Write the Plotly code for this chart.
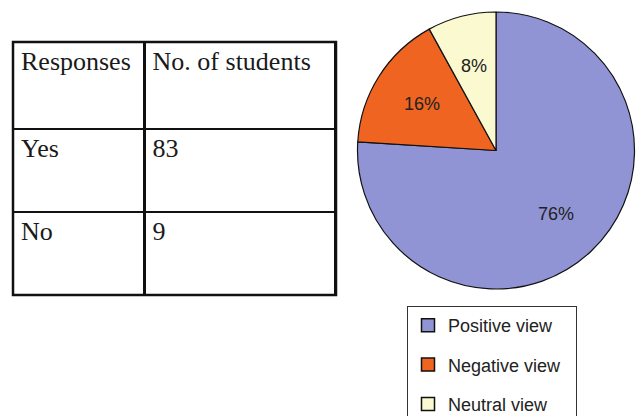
import math
import plotly.graph_objects as go

# ---- data ----
table_header = ["Responses", "No. of students"]
responses = ["Yes", "No"]
students = [83, 9]

view_labels = ["Positive view", "Negative view", "Neutral view"]
view_percent = [76, 16, 8]
view_colors = ["#9194D4", "#EE6420", "#FAF9D0"]

W, H = 636, 416

# table geometry (px)
T_LEFT, T_RIGHT, T_TOP = 13, 336, 42
HEADER_H, ROW_H = 87, 83
T_BOTTOM = T_TOP + HEADER_H + ROW_H * len(responses)

# pie geometry (px)
CX, CY, R = 496, 150.5, 138.5

fig = go.Figure()

serif = dict(family="Liberation Serif, Times New Roman, serif", size=26, color="#1a1a1a")
fig.add_trace(go.Table(
    domain=dict(x=[T_LEFT / W, T_RIGHT / W], y=[(H - T_BOTTOM - 4) / H, (H - T_TOP) / H]),
    columnwidth=[132, 191],
    header=dict(values=table_header, align="left", height=HEADER_H,
                line=dict(color="#111111", width=2.5), fill=dict(color="white"), font=serif),
    cells=dict(values=[responses, students], align="left", height=ROW_H,
               line=dict(color="#111111", width=2.5), fill=dict(color="white"), font=serif),
))

# outer frame of the table
fig.add_shape(type="rect", xref="paper", yref="paper",
              x0=T_LEFT / W, x1=T_RIGHT / W, y0=(H - T_BOTTOM) / H, y1=(H - T_TOP) / H,
              line=dict(color="#111111", width=2.5), fillcolor="rgba(0,0,0,0)", layer="above")

# ---- pie ----
fig.add_trace(go.Pie(
    labels=view_labels,
    values=view_percent,
    sort=False,
    direction="clockwise",
    rotation=0,
    textinfo="none",
    marker=dict(colors=view_colors, line=dict(color="#111111", width=1.2)),
    domain=dict(x=[(CX - R) / W, (CX + R) / W], y=[(H - CY - R) / H, (H - CY + R) / H]),
    showlegend=False,
    hoverinfo="label+percent",
))

# percentage labels placed at the mid-angle of each slice
total = sum(view_percent)
cum = 0
for v in view_percent:
    mid = (cum + v / 2) / total * 2 * math.pi
    cum += v
    px = CX + 0.63 * R * math.sin(mid)
    py = CY - 0.63 * R * math.cos(mid)
    fig.add_annotation(x=px / W, y=(H - py) / H, xref="paper", yref="paper",
                       xanchor="center", yanchor="middle",
                       text=f"{round(v / total * 100)}%", showarrow=False,
                       font=dict(family="Liberation Sans, Arial, sans-serif", size=18, color="#222222"))

# ---- legend built from the same labels/colours ----
for i, (lab, col) in enumerate(zip(view_labels, view_colors)):
    fig.add_trace(go.Scatter(
        x=[None], y=[None], mode="markers", name=lab + "\u00a0\u00a0",
        legendgroup=f"g{i}",
        marker=dict(symbol="square", size=13, color=col,
                    line=dict(color="#111111", width=1.5)),
        showlegend=True, hoverinfo="skip",
    ))

fig.update_layout(
    width=W, height=H,
    margin=dict(l=0, r=0, t=0, b=0, autoexpand=False),
    paper_bgcolor="white", plot_bgcolor="white",
    xaxis=dict(visible=False), yaxis=dict(visible=False),
    showlegend=True,
    legend=dict(
        x=407 / W, xanchor="left",
        y=(H - 306) / H, yanchor="top",
        bordercolor="#333333", borderwidth=1,
        bgcolor="white",
        tracegroupgap=13,
        font=dict(family="Liberation Sans, Arial, sans-serif", size=18, color="#222222"),
    ),
)

fig.write_html("out.html")
